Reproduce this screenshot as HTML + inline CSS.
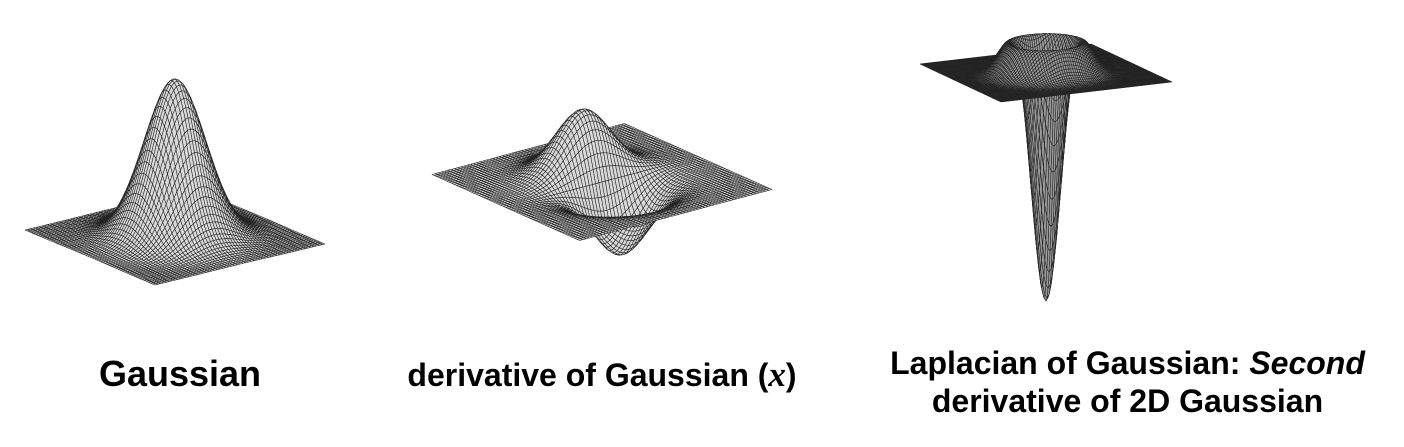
<!DOCTYPE html>
<html><head><meta charset="utf-8"><style>
body{margin:0;background:#fff;}
#wrap{position:relative;width:1404px;height:447px;overflow:hidden;background:#fff;}
svg{position:absolute;left:0;top:0;}
.lbl{position:absolute;font-family:"Liberation Sans",sans-serif;font-weight:bold;color:#000;text-align:center;white-space:nowrap;}
</style></head><body>
<div id="wrap">
<svg id="svg" width="1404" height="447"></svg>
<div class="lbl" style="left:40px;top:353px;width:280px;font-size:36px;">Gaussian</div>
<div class="lbl" style="left:382px;top:355px;width:440px;font-size:32px;">derivative of Gaussian (<i style="font-family:'Liberation Serif',serif;font-size:35px">x</i>)</div>
<div class="lbl" style="left:850px;top:345px;width:555px;font-size:32px;">Laplacian of Gaussian: <i>Second</i></div>
<div class="lbl" style="left:850px;top:383px;width:555px;font-size:32px;">derivative of 2D Gaussian</div>
</div>
<script>
// surface parameters
const surfaceTypes = ["gauss","dgauss","log"];
const sigmas = [0.29, 0.26, 0.2];
const heights = [158, 64, 228];
const gridSizes = [60, 60, 80];
const fills = ["#d8d8d8","#d8d8d8","#999999"];
const centers = [[175,237],[602,182],[1046,73]];
const diagX = [[150,7],[170,7.5],[126,9]];
const diagY = [[-20,48],[-22.5,58.5],[-45,29]];

function f(type,s,x,y){
  const r2=x*x+y*y;
  if(type==="gauss") return Math.exp(-r2/(2*s*s));
  if(type==="dgauss") return -(x/s)*Math.exp(0.5)*Math.exp(-r2/(2*s*s));
  return -(1-r2/(2*s*s))*Math.exp(-r2/(2*s*s));
}
const svg=document.getElementById('svg');
const NS="http://www.w3.org/2000/svg";
for(let k=0;k<surfaceTypes.length;k++){
  const g=document.createElementNS(NS,'g');
  
  
  svg.appendChild(g);
  const N=gridSizes[k],c=centers[k],H=heights[k],s=sigmas[k];
  const X=diagX[k],Y=diagY[k];
  const ax=[(X[0]+Y[0])/2,(X[1]+Y[1])/2], ay=[(X[0]-Y[0])/2,(X[1]-Y[1])/2];
  const P=(i,j)=>{const x=-1+2*i/N,y=-1+2*j/N;const z=f(surfaceTypes[k],s,x,y);
    const by=c[1]+x*ax[1]+y*ay[1];
    return [c[0]+x*ax[0]+y*ay[0], by-z*H, by];};
  const quads=[];
  for(let i=0;i<N;i++)for(let j=0;j<N;j++){
    const a=P(i,j),b=P(i+1,j),cc=P(i+1,j+1),d=P(i,j+1);
    quads.push({pts:[a,b,cc,d],depth:(a[2]+b[2]+cc[2]+d[2])/4});
  }
  quads.sort((p,q)=>p.depth-q.depth);
  let html='';
  for(const q of quads){
    html+='<polygon points="'+q.pts.map(p=>p[0].toFixed(1)+','+p[1].toFixed(1)).join(' ')+'"/>';
  }
  g.setAttribute('fill',fills[k]);
  g.setAttribute('stroke','#222');
  g.setAttribute('stroke-width','0.55');
  g.setAttribute('stroke-linejoin','round');
  g.innerHTML=html;
}
</script>
</body></html>
